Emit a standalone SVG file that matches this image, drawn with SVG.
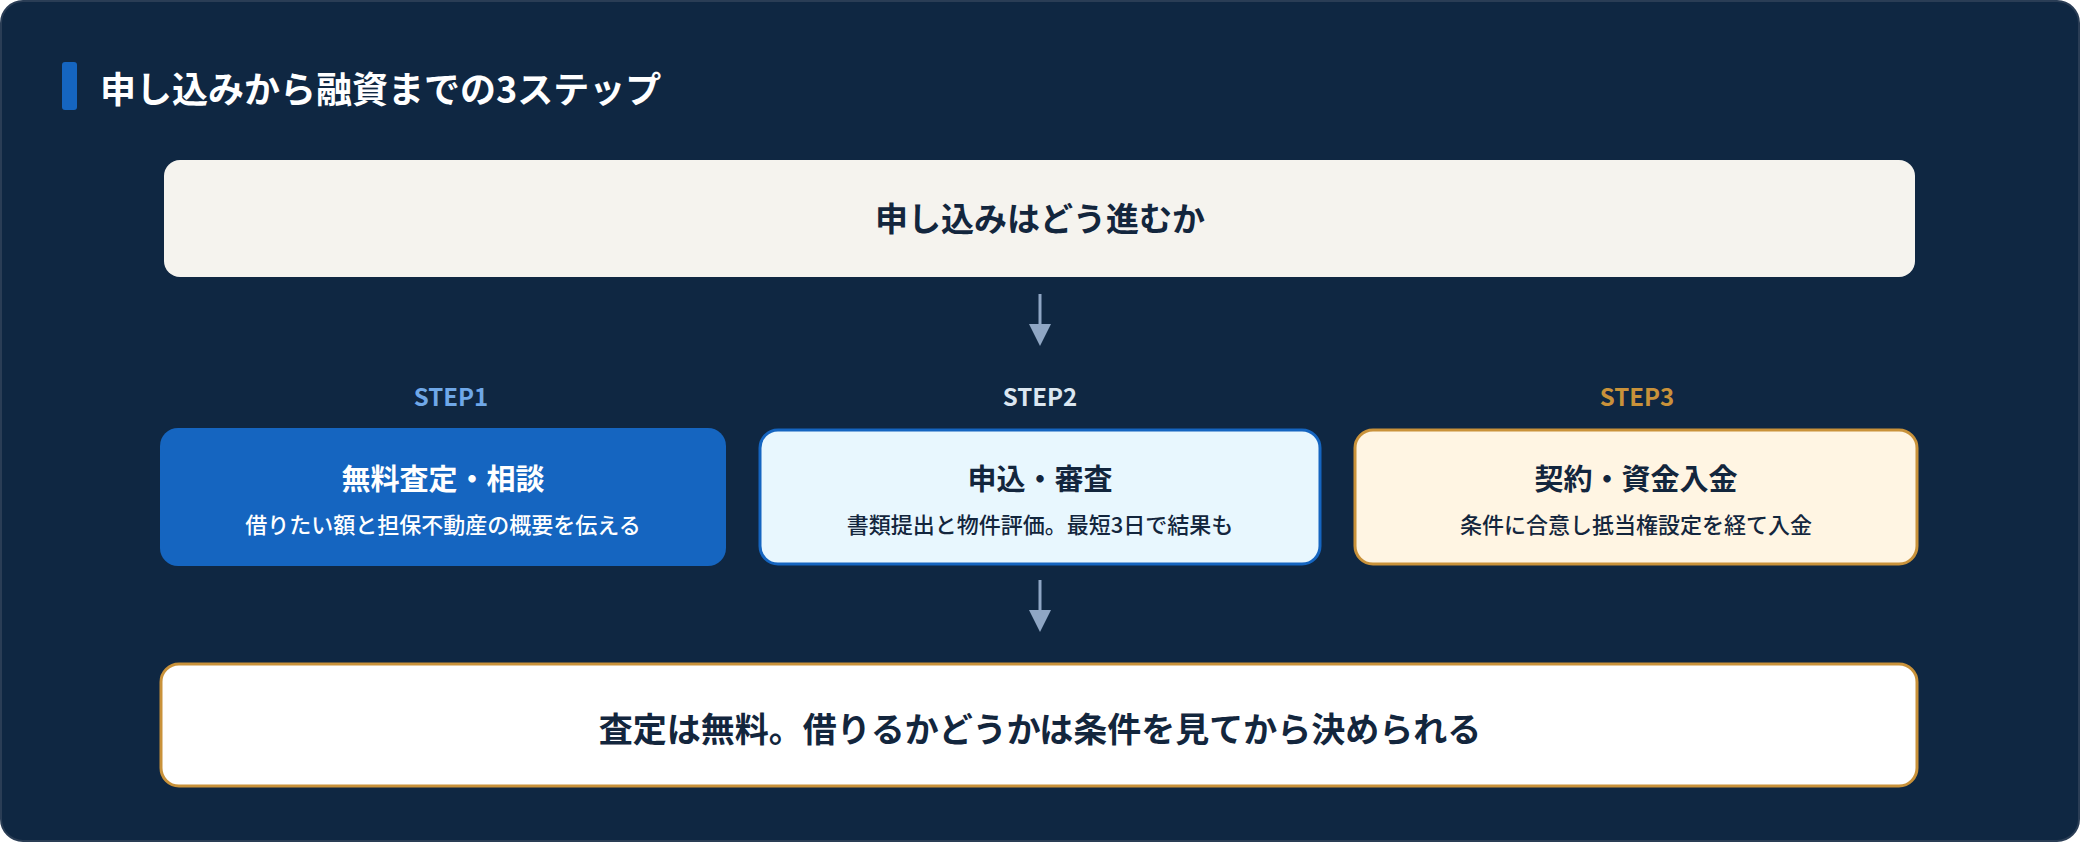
<svg xmlns="http://www.w3.org/2000/svg" width="2080" height="842" viewBox="0 0 2080 842">
<style>
text{font-family:"Noto Sans CJK JP","Noto Sans",sans-serif;font-weight:700;text-anchor:middle}
.dk{fill:#13263d}
.step{font-size:24px}
.t{font-size:29px}
.s{font-size:22px;font-weight:500}
</style>
<defs>
<marker id="ah" viewBox="0 0 10 10" refX="5" refY="5" markerWidth="28" markerHeight="22" markerUnits="userSpaceOnUse" orient="auto"><path d="M0,0L10,5L0,10Z" fill="#8fa6c4"/></marker>
</defs>
<rect x="1" y="1" width="2078" height="840" rx="22" fill="#0f2742" stroke="#2a3d55" stroke-width="2"/>
<g id="title">
<rect x="62" y="62" width="15" height="48" rx="3" fill="#1565c0"/>
<text x="100" y="103" style="font-size:36px;fill:#fff;text-anchor:start">申し込みから融資までの3ステップ</text>
</g>
<g id="connectors" stroke="#8fa6c4" stroke-width="3" fill="none">
<line x1="1040" y1="294" x2="1040" y2="335" marker-end="url(#ah)"/>
<line x1="1040" y1="580" x2="1040" y2="621" marker-end="url(#ah)"/>
</g>
<g id="top">
<rect x="164" y="160" width="1751" height="117" rx="16" fill="#f5f3ee"/>
<text class="dk" x="1040" y="231" style="font-size:33px">申し込みはどう進むか</text>
</g>
<g id="step1">
<text class="step" x="451" y="406" fill="#6fa8e8">STEP1</text>
<rect x="160" y="428" width="566" height="138" rx="18" fill="#1565c0"/>
<text class="t" x="443" y="490" fill="#fff">無料査定・相談</text>
<text class="s" x="443" y="533" fill="#fff">借りたい額と担保不動産の概要を伝える</text>
</g>
<g id="step2">
<text class="step" x="1040" y="406" fill="#dbe6f0">STEP2</text>
<rect x="760" y="430" width="560" height="134" rx="18" fill="#e8f7fe" stroke="#1565c0" stroke-width="3"/>
<text class="t dk" x="1040" y="490">申込・審査</text>
<text class="s dk" x="1040" y="533">書類提出と物件評価。最短3日で結果も</text>
</g>
<g id="step3">
<text class="step" x="1637" y="406" fill="#c9923a">STEP3</text>
<rect x="1355" y="430" width="562" height="134" rx="18" fill="#fff5e3" stroke="#c9923a" stroke-width="3"/>
<text class="t dk" x="1636" y="490">契約・資金入金</text>
<text class="s dk" x="1636" y="533">条件に合意し抵当権設定を経て入金</text>
</g>
<g id="bottom">
<rect x="161" y="664" width="1756" height="122" rx="18" fill="#fff" stroke="#c9923a" stroke-width="3"/>
<text class="dk" x="1040" y="742" style="font-size:34px">査定は無料。借りるかどうかは条件を見てから決められる</text>
</g>
</svg>
